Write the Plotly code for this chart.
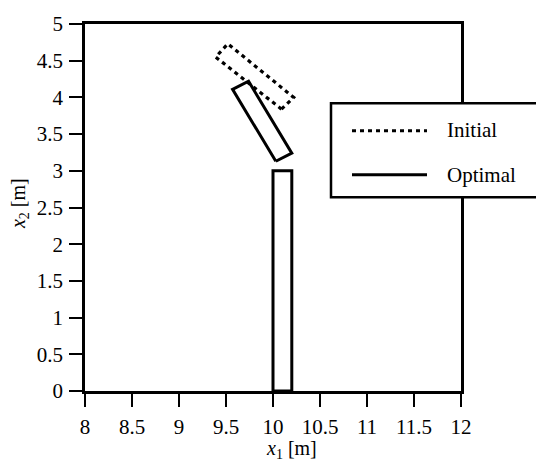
import plotly.graph_objects as go

# Link outlines (corner coordinates, closed polygons) in metres
base_x = [10.0, 10.2, 10.2, 10.0, 10.0]
base_y = [0.0, 0.0, 3.0, 3.0, 0.0]

optimal_x = [10.03, 10.20, 9.74, 9.57, 10.03]
optimal_y = [3.13, 3.24, 4.22, 4.11, 3.13]

initial_x = [10.09, 10.22, 9.52, 9.39, 10.09]
initial_y = [3.84, 4.00, 4.73, 4.55, 3.84]

# Axis ticks
x_ticks = [8, 8.5, 9, 9.5, 10, 10.5, 11, 11.5, 12]
x_tick_text = ["8", "8.5", "9", "9.5", "10", "10.5", "11", "11.5", "12"]
y_ticks = [0, 0.5, 1, 1.5, 2, 2.5, 3, 3.5, 4, 4.5, 5]
y_tick_text = ["0", "0.5", "1", "1.5", "2", "2.5", "3", "3.5", "4", "4.5", "5"]

legend_labels = ["Initial", "Optimal"]

FONT = "Liberation Serif"
W, H = 536, 459
ML, MR, MT, MB = 85, 75, 16, 68
PW, PH = W - ML - MR, H - MT - MB


def px_x(p):
    return (p - ML) / PW


def px_y(p):
    return (H - MB - p) / PH


fig = go.Figure()

fig.add_trace(go.Scatter(x=base_x, y=base_y, mode="lines",
                         line=dict(color="black", width=3),
                         showlegend=False, hoverinfo="skip"))
fig.add_trace(go.Scatter(x=optimal_x, y=optimal_y, mode="lines",
                         line=dict(color="black", width=3),
                         name=legend_labels[1], showlegend=False))
fig.add_trace(go.Scatter(x=initial_x, y=initial_y, mode="lines",
                         line=dict(color="black", width=3.2, dash="4px,4px"),
                         name=legend_labels[0], showlegend=False))

axis_common = dict(
    showgrid=False, zeroline=False, showline=True, linecolor="black",
    linewidth=2.5, mirror=True, ticks="outside", ticklen=13, tickwidth=2,
    tickcolor="black", tickfont=dict(family=FONT, size=21, color="black"),
)

fig.update_xaxes(range=[8, 12], tickmode="array", tickvals=x_ticks,
                 ticktext=x_tick_text, ticklabelstandoff=2, **axis_common)
fig.update_yaxes(range=[0, 5], tickmode="array", tickvals=y_ticks,
                 ticktext=y_tick_text, ticklabelstandoff=2, **axis_common)

# Legend box drawn by hand so its sample lines can be long
shapes = [
    dict(type="rect", xref="paper", yref="paper",
         x0=px_x(331), x1=px_x(548), y0=px_y(193), y1=px_y(97),
         line=dict(color="black", width=2.5), fillcolor="white", layer="above"),
    dict(type="line", xref="paper", yref="paper",
         x0=px_x(352), x1=px_x(427), y0=px_y(125), y1=px_y(125),
         line=dict(color="black", width=3, dash="4px,4px"), layer="above"),
    dict(type="line", xref="paper", yref="paper",
         x0=px_x(352), x1=px_x(427), y0=px_y(170), y1=px_y(170),
         line=dict(color="black", width=3), layer="above"),
]

annotations = [
    dict(text=legend_labels[0], xref="paper", yref="paper",
         x=px_x(445), y=px_y(124), xanchor="left", yanchor="middle",
         showarrow=False, font=dict(family=FONT, size=21, color="black")),
    dict(text=legend_labels[1], xref="paper", yref="paper",
         x=px_x(445), y=px_y(170), xanchor="left", yanchor="middle",
         showarrow=False, font=dict(family=FONT, size=21, color="black")),
    dict(text="<i>x</i><sub>1</sub> [m]", xref="paper", yref="paper",
         x=px_x(291), y=px_y(451), xanchor="center", yanchor="middle",
         showarrow=False, font=dict(family=FONT, size=20, color="black")),
    dict(text="<i>x</i><sub>2</sub> [m]", xref="paper", yref="paper",
         x=px_x(19), y=px_y(200), xanchor="center", yanchor="middle",
         textangle=-90, showarrow=False,
         font=dict(family=FONT, size=20, color="black")),
]

fig.update_layout(
    width=W, height=H,
    margin=dict(l=ML, r=MR, t=MT, b=MB, pad=0),
    paper_bgcolor="white", plot_bgcolor="white",
    showlegend=False,
    shapes=shapes, annotations=annotations,
)

fig.write_html("out.html")
